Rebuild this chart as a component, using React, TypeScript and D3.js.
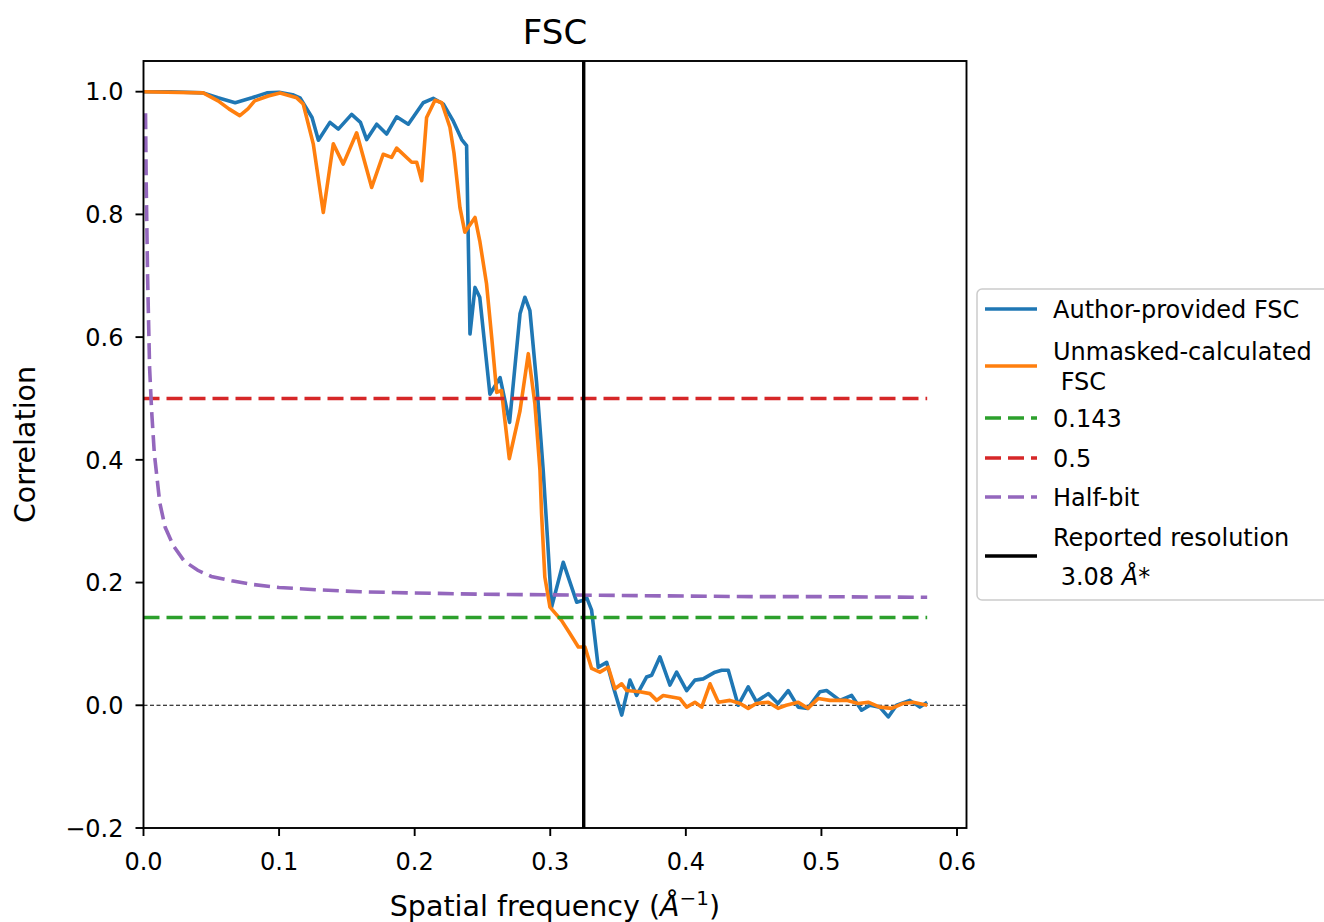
import React from "react";
import * as d3 from "d3";

// ---------- data ----------
const freqAuthor = [0.0, 0.02, 0.044, 0.055, 0.0676, 0.08, 0.091, 0.1, 0.11, 0.1154, 0.1243, 0.129, 0.1375, 0.1437, 0.1535, 0.16, 0.1646, 0.172, 0.1793, 0.1867, 0.1953, 0.2063, 0.2137, 0.2211, 0.2285, 0.2347, 0.2383, 0.2395, 0.2408, 0.2445, 0.248, 0.2555, 0.263, 0.27, 0.2777, 0.2813, 0.285, 0.29, 0.2948, 0.298, 0.301, 0.3096, 0.3195, 0.3243, 0.3268, 0.3305, 0.3354, 0.3416, 0.3465, 0.3527, 0.3588, 0.3637, 0.371, 0.3748, 0.3809, 0.3883, 0.3932, 0.4006, 0.4067, 0.4128, 0.4215, 0.4264, 0.4313, 0.4386, 0.446, 0.452, 0.4608, 0.468, 0.4755, 0.4829, 0.49, 0.4989, 0.5038, 0.5136, 0.5223, 0.5296, 0.5358, 0.543, 0.5493, 0.5554, 0.5652, 0.5726, 0.578];
const fscAuthor = [1.0, 1.0, 0.998, 0.99, 0.982, 0.99, 0.998, 0.999, 0.995, 0.99, 0.958, 0.921, 0.95, 0.939, 0.963, 0.95, 0.922, 0.947, 0.931, 0.959, 0.947, 0.982, 0.989, 0.98, 0.952, 0.922, 0.912, 0.762, 0.605, 0.681, 0.665, 0.507, 0.534, 0.461, 0.638, 0.665, 0.643, 0.524, 0.383, 0.27, 0.16, 0.233, 0.168, 0.171, 0.176, 0.155, 0.062, 0.07, 0.03, -0.016, 0.041, 0.016, 0.046, 0.049, 0.079, 0.033, 0.054, 0.024, 0.041, 0.043, 0.054, 0.057, 0.057, 0.0, 0.03, 0.006, 0.019, 0.003, 0.024, -0.003, -0.005, 0.022, 0.024, 0.008, 0.016, -0.008, 0.0, -0.003, -0.019, 0.0, 0.008, -0.003, 0.005];

const freqUnmasked = [0.0, 0.044, 0.055, 0.063, 0.071, 0.077, 0.082, 0.092, 0.1007, 0.113, 0.1178, 0.1252, 0.1326, 0.14, 0.1473, 0.1572, 0.1683, 0.1768, 0.183, 0.1867, 0.1978, 0.2015, 0.2052, 0.2088, 0.215, 0.22, 0.226, 0.229, 0.2334, 0.237, 0.2445, 0.248, 0.253, 0.2568, 0.2605, 0.264, 0.2698, 0.2777, 0.2838, 0.2887, 0.2924, 0.2936, 0.296, 0.2998, 0.3084, 0.3145, 0.3207, 0.3256, 0.3305, 0.3366, 0.3428, 0.3477, 0.3527, 0.3563, 0.366, 0.3735, 0.3785, 0.3833, 0.3957, 0.4006, 0.4067, 0.4117, 0.4178, 0.424, 0.4325, 0.44, 0.446, 0.452, 0.4608, 0.468, 0.474, 0.4829, 0.49, 0.4977, 0.5063, 0.5186, 0.5272, 0.5345, 0.543, 0.5518, 0.5603, 0.5677, 0.578];
const fscUnmasked = [1.0, 0.998, 0.985, 0.972, 0.961, 0.972, 0.985, 0.993, 0.998, 0.99, 0.98, 0.915, 0.803, 0.915, 0.882, 0.933, 0.844, 0.898, 0.893, 0.908, 0.885, 0.885, 0.855, 0.958, 0.986, 0.982, 0.942, 0.9, 0.811, 0.771, 0.795, 0.757, 0.687, 0.6, 0.51, 0.513, 0.402, 0.48, 0.573, 0.491, 0.383, 0.312, 0.209, 0.16, 0.138, 0.117, 0.095, 0.095, 0.06, 0.054, 0.062, 0.027, 0.035, 0.024, 0.022, 0.019, 0.008, 0.016, 0.011, -0.003, 0.005, -0.003, 0.035, 0.005, 0.008, 0.003, -0.005, 0.003, 0.005, -0.005, 0.0, 0.005, -0.005, 0.011, 0.008, 0.008, 0.003, 0.005, -0.003, -0.005, 0.003, 0.005, 0.0];

const freqHalfBit = [0.0015, 0.002, 0.003, 0.0045, 0.006, 0.008, 0.012, 0.016, 0.022, 0.03, 0.04, 0.05, 0.065, 0.08, 0.1, 0.13, 0.16, 0.2, 0.25, 0.3, 0.35, 0.4, 0.45, 0.5, 0.578];
const fscHalfBit = [0.965, 0.85, 0.7, 0.55, 0.48, 0.41, 0.33, 0.29, 0.26, 0.235, 0.22, 0.21, 0.203, 0.197, 0.192, 0.188, 0.185, 0.183, 0.181, 0.18, 0.179, 0.178, 0.177, 0.177, 0.176];

const thresholdLevels = [0.143, 0.5];
const thresholdSpan = [0.0, 0.578];
const reportedResolution = 3.08;
const xTicks = [0.0, 0.1, 0.2, 0.3, 0.4, 0.5, 0.6];
const yTicks = [-0.2, 0.0, 0.2, 0.4, 0.6, 0.8, 1.0];
const xDomain = [0, 0.607];
const yDomain = [-0.2, 1.05];

const legendLabels = ["Author-provided FSC", "Unmasked-calculated\n FSC", "0.143", "0.5", "Half-bit", "Reported resolution\n 3.08 Å*"];

// ---------- styles ----------
const C = {
  blue: "#1f77b4",
  orange: "#ff7f0e",
  green: "#2ca02c",
  red: "#d62728",
  purple: "#9467bd",
};
const FONT = "DejaVu Sans, sans-serif";
const LW = 3.6;
const DASH = "16,7";

export default function App() {
  const W = 1324, H = 922;
  const L = 143.5, R = 966.5, T = 61, B = 828;
  const x = d3.scaleLinear().domain(xDomain).range([L, R]);
  const y = d3.scaleLinear().domain(yDomain).range([B, T]);

  const line = d3.line<[number, number]>().x((d) => x(d[0])).y((d) => y(d[1]));
  const author = line(freqAuthor.map((f, i) => [f, fscAuthor[i]]) as [number, number][]);
  const unmasked = line(freqUnmasked.map((f, i) => [f, fscUnmasked[i]]) as [number, number][]);
  const halfbit = line(freqHalfBit.map((f, i) => [f, fscHalfBit[i]]) as [number, number][]);

  const fmt = (v: number) => (v < 0 ? "\u2212" : "") + Math.abs(v).toFixed(1);
  const resX = x(1 / reportedResolution);

  const legendItems = [
    { color: C.blue, dash: undefined, cy: 309, lines: [318] },
    { color: C.orange, dash: undefined, cy: 366, lines: [360, 390] },
    { color: C.green, dash: DASH, cy: 418, lines: [427] },
    { color: C.red, dash: DASH, cy: 458, lines: [467] },
    { color: C.purple, dash: DASH, cy: 497, lines: [506] },
    { color: "#000", dash: undefined, cy: 556, lines: [546, 585] },
  ];

  return (
    <svg width={W} height={H} style={{ position: "absolute", left: 0, top: 0, background: "#fff" }} fontFamily={FONT}>
      <defs>
        <clipPath id="plotclip">
          <rect x={L} y={T} width={R - L} height={B - T} />
        </clipPath>
      </defs>
      <rect x={0} y={0} width={W} height={H} fill="#fff" />

      <g clipPath="url(#plotclip)" fill="none">
        <line x1={L} x2={R} y1={y(0)} y2={y(0)} stroke="#000" strokeWidth={1.1} strokeDasharray="4,2.5" />
        <path d={author ?? ""} stroke={C.blue} strokeWidth={LW} strokeLinejoin="round" strokeLinecap="butt" />
        <path d={unmasked ?? ""} stroke={C.orange} strokeWidth={LW} strokeLinejoin="round" strokeLinecap="butt" />
        <line x1={x(thresholdSpan[0])} x2={x(thresholdSpan[1])} y1={y(thresholdLevels[0])} y2={y(thresholdLevels[0])} stroke={C.green} strokeWidth={LW} strokeDasharray={DASH} />
        <line x1={x(thresholdSpan[0])} x2={x(thresholdSpan[1])} y1={y(thresholdLevels[1])} y2={y(thresholdLevels[1])} stroke={C.red} strokeWidth={LW} strokeDasharray={DASH} />
        <path d={halfbit ?? ""} stroke={C.purple} strokeWidth={LW} strokeDasharray={DASH} />
        <line x1={resX} x2={resX} y1={T} y2={B} stroke="#000" strokeWidth={3.4} />
      </g>

      {/* frame */}
      <rect x={L} y={T} width={R - L} height={B - T} fill="none" stroke="#000" strokeWidth={1.9} />

      {/* x ticks */}
      {xTicks.map((t) => (
        <g key={"x" + t}>
          <line x1={x(t)} x2={x(t)} y1={B} y2={B + 8} stroke="#000" strokeWidth={1.9} />
          <text x={x(t)} y={B + 42} textAnchor="middle" fontSize={24} fill="#000">{fmt(t)}</text>
        </g>
      ))}
      {/* y ticks */}
      {yTicks.map((t) => (
        <g key={"y" + t}>
          <line x1={L - 8} x2={L} y1={y(t)} y2={y(t)} stroke="#000" strokeWidth={1.9} />
          <text x={L - 20} y={y(t) + 8.7} textAnchor="end" fontSize={24} fill="#000">{fmt(t)}</text>
        </g>
      ))}

      {/* labels */}
      <text x={(L + R) / 2} y={916} textAnchor="middle" fontSize={28.5} fill="#000">
        Spatial frequency (<tspan fontStyle="italic">Å</tspan><tspan dy={-11} fontSize={20}>−1</tspan><tspan dy={11}>)</tspan>
      </text>
      <text transform={`translate(35, ${(T + B) / 2}) rotate(-90)`} textAnchor="middle" fontSize={28.5} fill="#000">Correlation</text>
      <text x={(L + R) / 2} y={44} textAnchor="middle" fontSize={34} fill="#000">FSC</text>

      {/* legend */}
      <rect x={977} y={289} width={360} height={311} rx={5} fill="#fff" fillOpacity={0.8} stroke="#ccc" strokeWidth={1.5} />
      {legendItems.map((it, i) => {
        const parts = legendLabels[i].split("\n");
        return (
          <g key={"lg" + i}>
            <line x1={985} x2={1037} y1={it.cy} y2={it.cy} stroke={it.color} strokeWidth={LW} strokeDasharray={it.dash} />
            {parts.map((p, j) => (
              <text key={j} x={1053} y={it.lines[j]} fontSize={24} fill="#000" style={{ whiteSpace: "pre" }}>
                {p.includes("Å") ? (
                  <>
                    {p.split("Å")[0]}
                    <tspan fontStyle="italic">Å</tspan>
                    {p.split("Å")[1]}
                  </>
                ) : (
                  p
                )}
              </text>
            ))}
          </g>
        );
      })}
    </svg>
  );
}
